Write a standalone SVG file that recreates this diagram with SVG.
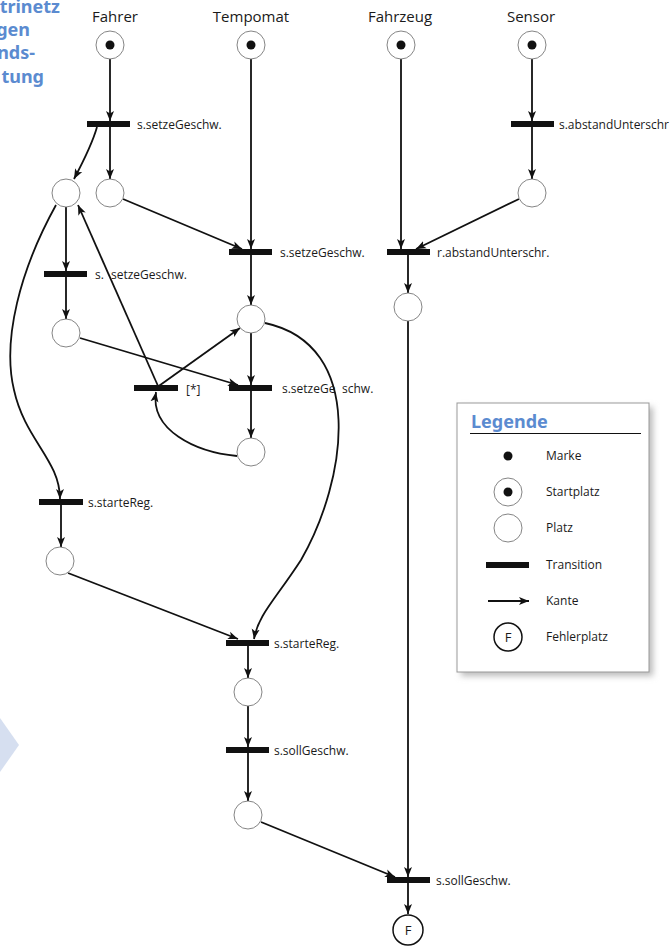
<svg xmlns="http://www.w3.org/2000/svg" width="671" height="946" viewBox="0 0 671 946">
<style>
text{font-family:"Open Sans","Noto Sans","Liberation Sans",sans-serif;fill:#1a1a1a}
.title{font-size:15px}
.lbl{font-size:12px}
.leg{font-size:12px}
.head{font-family:"Noto Sans","Open Sans","Liberation Sans",sans-serif;font-size:18px;font-weight:bold;fill:#5b8bd0}
.place{fill:#fff;stroke:#777;stroke-width:0.9}
.err{fill:#fff;stroke:#111;stroke-width:1.5}
.tok{fill:#111}
.tr{fill:#111}
.edge{fill:none;stroke:#111;stroke-width:1.8;marker-end:url(#arr)}
</style>
<defs>
<marker id="arr" markerUnits="userSpaceOnUse" markerWidth="11" markerHeight="9" refX="10" refY="4.5" orient="auto">
<path d="M0,0.5 L10,4.5 L0,8.5 L2.5,4.5 z" fill="#111"/>
</marker>
<filter id="sh" x="-20%" y="-20%" width="140%" height="140%">
<feGaussianBlur stdDeviation="3"/>
</filter>
</defs>
<rect width="671" height="946" fill="#fff"/>

<g id="sidebar">
<text class="head" x="60" y="13" text-anchor="end">trinetz</text>
<text class="head" x="30" y="36" text-anchor="end">gen</text>
<text class="head" x="35" y="59" text-anchor="end">nds-</text>
<text class="head" x="44" y="83" text-anchor="end">tung</text>
<polygon points="0,718 19,745 0,772" fill="#d6dff0"/>
</g>

<g id="titles">
<text class="title" x="115" y="22" text-anchor="middle">Fahrer</text>
<text class="title" x="251" y="22" text-anchor="middle">Tempomat</text>
<text class="title" x="400" y="22" text-anchor="middle">Fahrzeug</text>
<text class="title" x="531" y="22" text-anchor="middle">Sensor</text>
</g>

<g id="connectors">
<path class="edge" d="M110 59 L110 121"/>
<path class="edge" d="M97 127 C 92 145, 83 162, 74 179"/>
<path class="edge" d="M110 127 L110 179"/>
<path class="edge" d="M123 199 L242 249"/>
<path class="edge" d="M251 59 L251 249"/>
<path class="edge" d="M251 255 L251 305"/>
<path class="edge" d="M401 59 L401 249"/>
<path class="edge" d="M532 59 L532 121"/>
<path class="edge" d="M532 127 L532 179"/>
<path class="edge" d="M519 199 L416 249"/>
<path class="edge" d="M408 255 L408 293"/>
<path class="edge" d="M408 321 L408 877"/>
<path class="edge" d="M66 207 L66 271"/>
<path class="edge" d="M66 277 L66 319"/>
<path class="edge" d="M80 338 L238 385"/>
<path class="edge" d="M251 333 L251 385"/>
<path class="edge" d="M251 391 L251 438"/>
<path class="edge" d="M237 456 C 195 452, 150 430, 156 392"/>
<path class="edge" d="M156 388 L240 328"/>
<path class="edge" d="M158 386 L78 205"/>
<path class="edge" d="M56 205 C 20 270, 2 340, 14 390 C 25 440, 60 460, 60 499"/>
<path class="edge" d="M61 505 L61 547"/>
<path class="edge" d="M68 573 L238 639"/>
<path class="edge" d="M265 323 C 367 345, 347 480, 301 560 C 275 600, 258 615, 254 639"/>
<path class="edge" d="M248 646 L248 678"/>
<path class="edge" d="M248 706 L248 747"/>
<path class="edge" d="M248 753 L248 801"/>
<path class="edge" d="M261 822 L395 877"/>
<path class="edge" d="M408 883 L408 914"/>
</g>

<g id="start-fahrer"><circle class="place" cx="110" cy="45" r="14"/><circle class="tok" cx="110" cy="45" r="4.5"/></g>
<g id="start-tempomat"><circle class="place" cx="251" cy="45" r="14"/><circle class="tok" cx="251" cy="45" r="4.5"/></g>
<g id="start-fahrzeug"><circle class="place" cx="401" cy="45" r="14"/><circle class="tok" cx="401" cy="45" r="4.5"/></g>
<g id="start-sensor"><circle class="place" cx="532" cy="45" r="14"/><circle class="tok" cx="532" cy="45" r="4.5"/></g>

<g id="t1"><rect class="tr" x="87" y="121" width="43" height="6"/><text class="lbl" x="137" y="129">s.setzeGeschw.</text></g>
<g id="t2"><rect class="tr" x="229" y="249" width="43" height="6"/><text class="lbl" x="280" y="257">s.setzeGeschw.</text></g>
<g id="tf"><rect class="tr" x="387" y="249" width="43" height="6"/><text class="lbl" x="437" y="257">r.abstandUnterschr.</text></g>
<g id="ts"><rect class="tr" x="511" y="121" width="43" height="6"/><text class="lbl" x="559" y="129">s.abstandUnterschr</text></g>
<g id="t3"><rect class="tr" x="44" y="271" width="43" height="6"/><text class="lbl" x="95" y="279">s.<tspan x="111">setzeGeschw.</tspan></text></g>
<g id="t4"><rect class="tr" x="229" y="385" width="43" height="6"/><text class="lbl" x="282" y="393">s.setzeGe<tspan x="342">schw.</tspan></text></g>
<g id="tstar"><rect class="tr" x="134" y="385" width="44" height="6"/><text class="lbl" x="186" y="394" fill="#333">[*]</text></g>
<g id="t5"><rect class="tr" x="39" y="499" width="44" height="6"/><text class="lbl" x="88" y="507">s.starteReg.</text></g>
<g id="tms"><rect class="tr" x="226" y="640" width="43" height="6"/><text class="lbl" x="274" y="648">s.starteReg.</text></g>
<g id="tss"><rect class="tr" x="226" y="747" width="43" height="6"/><text class="lbl" x="274" y="755">s.sollGeschw.</text></g>
<g id="tfinal"><rect class="tr" x="387" y="877" width="43" height="6"/><text class="lbl" x="436" y="885">s.sollGeschw.</text></g>

<g id="pa"><circle class="place" cx="66" cy="193" r="14"/></g>
<g id="pb"><circle class="place" cx="110" cy="193" r="14"/></g>
<g id="ps"><circle class="place" cx="532" cy="193" r="14"/></g>
<g id="pfz"><circle class="place" cx="408" cy="307" r="14"/></g>
<g id="pc"><circle class="place" cx="66" cy="333" r="14"/></g>
<g id="pd"><circle class="place" cx="251" cy="319" r="14"/></g>
<g id="pe"><circle class="place" cx="251" cy="452" r="14"/></g>
<g id="pf"><circle class="place" cx="60" cy="561" r="14"/></g>
<g id="pg"><circle class="place" cx="248" cy="692" r="14"/></g>
<g id="ph"><circle class="place" cx="248" cy="815" r="14"/></g>
<g id="pF"><circle class="err" cx="408" cy="930" r="15"/><text x="408" y="935" font-size="13" text-anchor="middle">F</text></g>

<g id="legend">
<rect x="461" y="407" width="192" height="269" fill="#bbb" filter="url(#sh)"/>
<rect x="457" y="403" width="192" height="269" fill="#fff" stroke="#999" stroke-width="1"/>
<text class="head" x="471" y="428">Legende</text>
<line x1="470" y1="433.5" x2="641" y2="433.5" stroke="#111" stroke-width="1"/>
<circle class="tok" cx="508" cy="456" r="4.5"/>
<text class="leg" x="546" y="460">Marke</text>
<circle class="place" cx="508" cy="492" r="14"/><circle class="tok" cx="508" cy="492" r="4.5"/>
<text class="leg" x="546" y="496">Startplatz</text>
<circle class="place" cx="508" cy="528" r="14"/>
<text class="leg" x="546" y="532">Platz</text>
<rect class="tr" x="486" y="562" width="43" height="6"/>
<text class="leg" x="546" y="569">Transition</text>
<path class="edge" d="M488 601 L529 601"/>
<text class="leg" x="546" y="605">Kante</text>
<circle class="err" cx="508" cy="637" r="14"/><text x="508" y="642" font-size="13" text-anchor="middle">F</text>
<text class="leg" x="546" y="641">Fehlerplatz</text>
</g>
</svg>
